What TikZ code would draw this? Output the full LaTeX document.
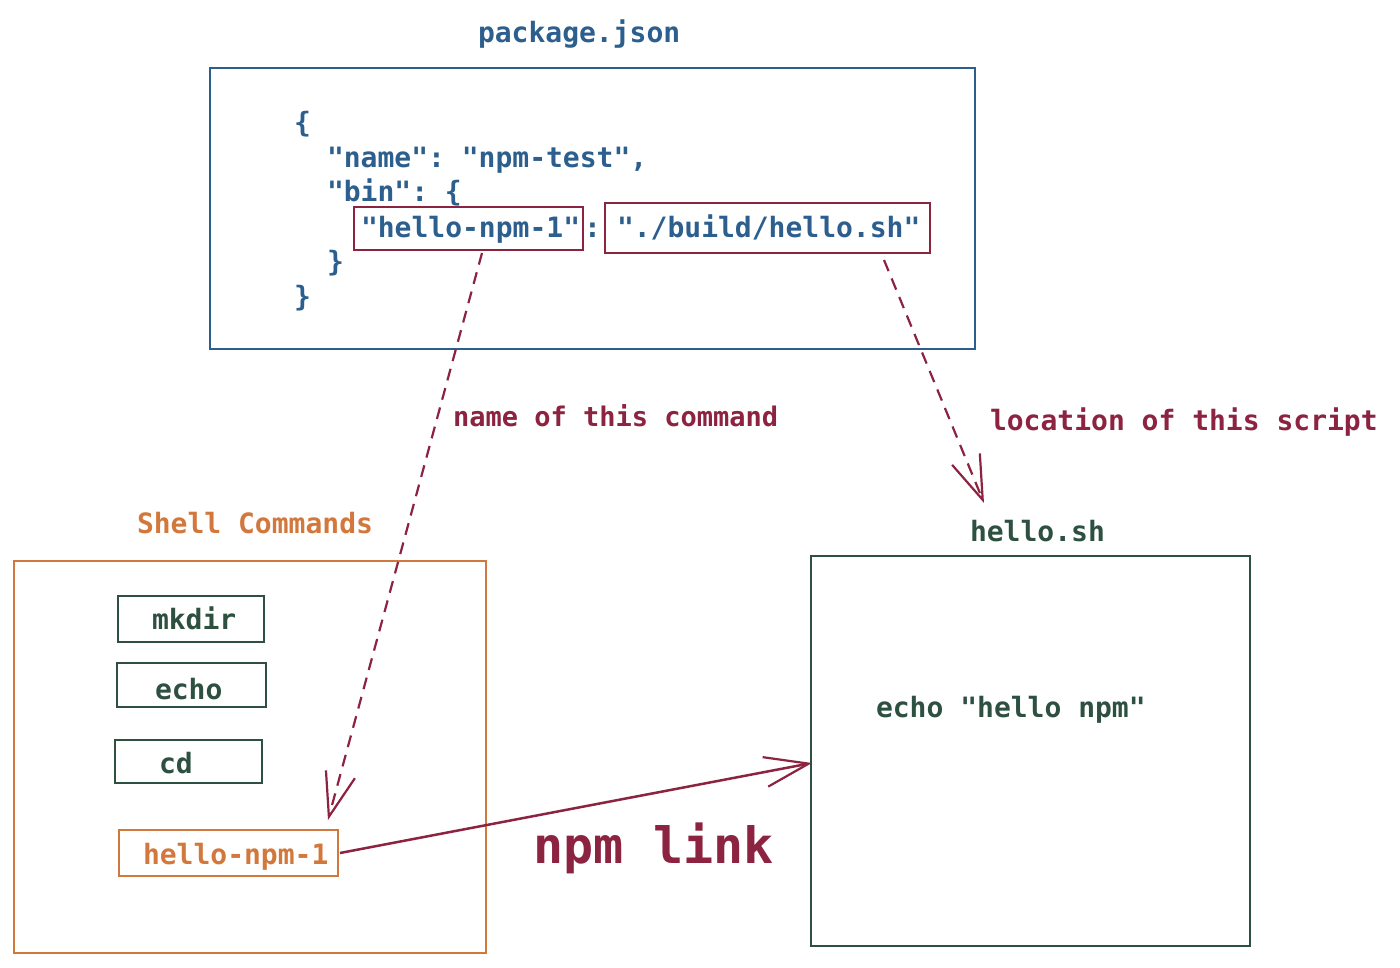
\documentclass[tikz,border=0pt]{standalone}
\usepackage{fontspec}
\setmonofont{DejaVu Sans Mono}
\usetikzlibrary{arrows.meta,calc}
\definecolor{jblue}{RGB}{44,95,142}
\definecolor{jred}{RGB}{140,35,65}
\definecolor{jorange}{RGB}{210,120,60}
\definecolor{jgreen}{RGB}{45,80,65}
\begin{document}
\begin{tikzpicture}[x=1pt,y=-1pt,
  txt/.style={font=\ttfamily\bfseries\fontsize{28}{34}\selectfont, inner sep=0pt, outer sep=0pt, anchor=base west},
  frame/.style={draw, line width=2.2pt, inner sep=0pt, outer sep=0pt, rectangle},
  tipbarb/.style={-{Straight Barb[length=44pt,width=30pt,line width=2.2pt]}},
  dashline/.style={dash pattern=on 12pt off 8pt},
]
\useasboundingbox[fill=white] (0,0) rectangle (1400,968);

% package.json
\node[frame, jblue, minimum width=765pt, minimum height=281pt] (pkg) at (592.5,208.5) {};
\node[txt, jblue] (pkgtitle) at (478,43) {package.json};
\node[txt, jblue] (l1) at (294,133) {\{};
\node[txt, jblue] (l2) at (327,168) {"name": "npm-test",};
\node[txt, jblue] (l3) at (327,202) {"bin": \{};
\node[txt, jblue] (l4a) at (361,238) {"hello-npm-1"};
\node[txt, jblue] (l4b) at (584,238) {:};
\node[txt, jblue] (l4c) at (617,238) {"./build/hello.sh"};
\node[txt, jblue] (l5) at (327,272) {\}};
\node[txt, jblue] (l6) at (294,307) {\}};
\node[frame, jred, minimum width=229pt, minimum height=43pt] (key) at (468.5,228.5) {};
\node[frame, jred, minimum width=325pt, minimum height=50pt] (val) at (767.5,228) {};

% Shell commands
\node[frame, jorange, minimum width=472pt, minimum height=392pt] (shell) at (250,757) {};
\node[txt, jorange] (shelltitle) at (137,533) {Shell Commands};
\node[frame, jgreen, minimum width=146pt, minimum height=46pt] (mkdirbox) at (191,619) {};
\node[txt, jgreen] (mkdirtxt) at (152,629) {mkdir};
\node[frame, jgreen, minimum width=149pt, minimum height=44pt] (echobox) at (191.5,685) {};
\node[txt, jgreen] (echotxt) at (155,699) {echo};
\node[frame, jgreen, minimum width=147pt, minimum height=43pt] (cdbox) at (188.5,761.5) {};
\node[txt, jgreen] (cdtxt) at (159,773) {cd};
\node[frame, jorange, minimum width=219pt, minimum height=46pt] (cmd) at (228.5,853) {};
\node[txt, jorange] (cmdtxt) at (143,864) {hello-npm-1};

% hello.sh
\node[frame, jgreen, minimum width=439pt, minimum height=390pt] (script) at (1030.5,751) {};
\node[txt, jgreen] (scripttitle) at (970,541) {hello.sh};
\node[txt, jgreen] (scripttxt) at (876,717) {echo "hello npm"};

% labels
\node[txt, jred, font=\ttfamily\bfseries\fontsize{27}{32}\selectfont] (lblname) at (453,426) {name of this command};
\node[txt, jred] (lblloc) at (990,430) {location of this script};
\node[txt, jred, font=\ttfamily\bfseries\fontsize{50}{60}\selectfont] (lbllink) at (533,863) {npm link};

% connectors
\coordinate (shtip) at (984,503);
\draw[jred, line width=2.2pt, dashline, tipbarb] ($(key.south)+(13.5,3)$) -- ($(cmd.north)+(99.5,-10)$);
\draw[jred, line width=2.2pt, dashline, tipbarb] ($(val.south)+(116.5,7)$) -- (shtip);
\draw[jred, line width=2.5pt, tipbarb] ($(cmd.east)+(2,0)$) -- ($(script.west)+(1,12)$);
\end{tikzpicture}
\end{document}
